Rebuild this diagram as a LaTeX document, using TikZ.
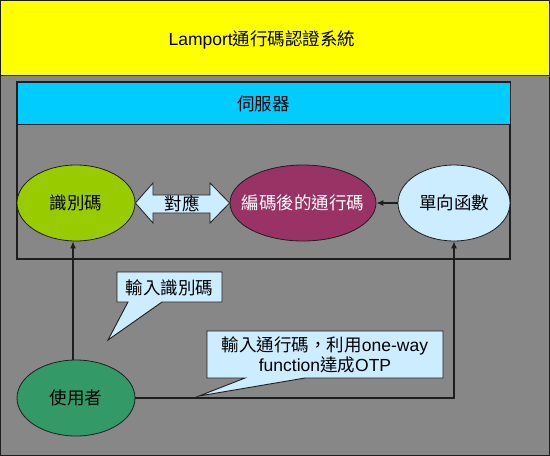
\documentclass[tikz,border=0pt]{standalone}
\usepackage{fontspec}
\setmainfont{Liberation Sans}
\newfontfamily\cjk{Noto Sans CJK TC}
\usetikzlibrary{shapes.geometric,arrows.meta}
\definecolor{bggray}{HTML}{878787}
\definecolor{ttlyellow}{HTML}{FFFF00}
\definecolor{hdrcyan}{HTML}{00CCFF}
\definecolor{idgreen}{HTML}{99CC00}
\definecolor{encred}{HTML}{993366}
\definecolor{lightcyan}{HTML}{CCECFF}
\definecolor{usergreen}{HTML}{339966}
\definecolor{edge}{HTML}{1E1E1E}
\tikzset{
  txt/.style={font=\fontsize{17.5}{20.5}\selectfont, inner sep=0pt},
  oval/.style={ellipse, draw=edge, line width=0.8pt, inner sep=0pt},
  conn/.style={draw=edge, line width=1.2pt, -{Latex[length=7pt,width=6pt]}},
  bubble/.style={fill=lightcyan, draw=edge, line width=0.9pt},
}
\begin{document}
\begin{tikzpicture}[x=1pt,y=-1pt]
\useasboundingbox (0,0) rectangle (550,456);
% background and title
\fill[bggray] (0,0) rectangle (550,456);
\draw[fill=ttlyellow, draw=edge, line width=0.8pt] (0.5,0.5) rectangle (549.5,75);
\draw[draw=edge, line width=1pt] (0.5,0.5) rectangle (549.5,455.5);
\node[txt] (title) at (262,40) {Lamport{\cjk 通行碼認證系統}};
% server frame
\draw[draw=edge, line width=1.5pt] (17,82) rectangle (510,259);
\draw[fill=hdrcyan, draw=edge, line width=1pt] (17,82) rectangle (510,124);
\node[txt] (server) at (263.5,104) {\cjk 伺服器};
% ellipses
\node[oval, fill=idgreen, minimum width=118, minimum height=76] (id) at (76,203) {};
\node[txt] (idl) at (id.center) {\cjk 識別碼};
\node[oval, fill=encred, minimum width=146, minimum height=76] (enc) at (303,203) {};
\node[txt, text=white] (encl) at (enc.center) {\cjk 編碼後的通行碼};
\node[oval, fill=lightcyan, minimum width=112, minimum height=76] (func) at (454,203) {};
\node[txt] (funcl) at (func.center) {\cjk 單向函數};
\node[oval, fill=usergreen, minimum width=118, minimum height=76] (user) at (76,398) {};
\node[txt] (userl) at (user.center) {\cjk 使用者};
% double arrow
\draw[fill=lightcyan, draw=edge, line width=0.8pt]
  (id.east) -- (153,183) -- (153,195) -- (210,195) -- (210,183) -- (enc.west)
  -- (210,223) -- (210,213) -- (153,213) -- (153,223) -- cycle;
\node[txt] (map) at (182,204) {\cjk 對應};
% connectors
\draw[conn] (func.west) -- (enc.east);
\draw[conn] ([xshift=-3pt]user.north) -- ([xshift=-3pt]id.south);
\draw[conn] (user.east) -| (func.south);
% callout 1
\draw[bubble] (117,272) -- (222,272) -- (222,302) -- (162,302) -- (108,340) -- (128,302) -- (117,302) -- cycle;
\node[txt] (c1) at (169.5,288) {\cjk 輸入識別碼};
% callout 2
\draw[bubble] (207,331) -- (443,331) -- (443,378) -- (305,378) -- (199,396) -- (245,378) -- (207,378) -- cycle;
\node[txt, align=center] (c2) at (325,355) {{\cjk 輸入通行碼，利用}one-way\\function{\cjk 達成}OTP};
\end{tikzpicture}
\end{document}
